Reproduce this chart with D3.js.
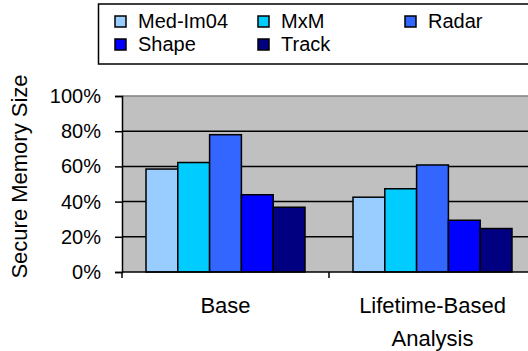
<!DOCTYPE html>
<html>
<head>
<meta charset="utf-8">
<script src="https://cdn.jsdelivr.net/npm/d3@7"></script>
<style>
  html, body { margin: 0; padding: 0; background: #fff; }
  svg { display: block; font-family: "Liberation Sans", Arial, sans-serif; }
</style>
</head>
<body>
<svg id="chart" width="528" height="351"></svg>
<script>
const categories = ["Base", "Lifetime-Based Analysis"];
const categoryLines = [["Base"], ["Lifetime-Based", "Analysis"]];
const seriesNames = ["Med-Im04", "MxM", "Radar", "Shape", "Track"];
const seriesColors = ["#99CCFF", "#00CCFF", "#3366FF", "#0000FF", "#000080"];
const medIm04 = [0.585, 0.425];
const mxm = [0.622, 0.473];
const radar = [0.780, 0.608];
const shape = [0.439, 0.294];
const track = [0.368, 0.247];
const seriesValues = [medIm04, mxm, radar, shape, track];
const yTicks = [0, 0.2, 0.4, 0.6, 0.8, 1.0];

const svg = d3.select("#chart");
const pLeft = 122, pRight = 536, pTop = 96, pBottom = 272;

const x0 = d3.scaleBand().domain(categories).range([pLeft, pRight]).padding(0);
const x1 = d3.scaleBand().domain(seriesNames).range([0, x0.bandwidth()])
  .paddingInner(0).paddingOuter(0.755);
const y = d3.scaleLinear().domain([0, 1]).range([pBottom, pTop]);

// plot background
svg.append("rect").attr("x", pLeft).attr("y", pTop)
  .attr("width", pRight - pLeft).attr("height", pBottom - pTop)
  .attr("fill", "#C0C0C0");

// gridlines
svg.append("g").selectAll("line").data(yTicks.filter(t => t > 0 && t < 1)).join("line")
  .attr("x1", pLeft).attr("x2", pRight)
  .attr("y1", d => y(d)).attr("y2", d => y(d))
  .attr("stroke", "#000").attr("stroke-width", 1.5);
// top border
svg.append("line").attr("x1", pLeft).attr("x2", pRight)
  .attr("y1", y(1)).attr("y2", y(1))
  .attr("stroke", "#808080").attr("stroke-width", 1.5);

// bars
const groups = svg.append("g").selectAll("g").data(categories).join("g")
  .attr("transform", d => `translate(${x0(d)},0)`);
groups.selectAll("rect")
  .data((c, ci) => seriesNames.map((s, si) => ({ s, si, v: seriesValues[si][ci] })))
  .join("rect")
  .attr("x", d => x1(d.s))
  .attr("y", d => y(d.v))
  .attr("width", x1.bandwidth())
  .attr("height", d => y(0) - y(d.v))
  .attr("fill", d => seriesColors[d.si])
  .attr("stroke", "#000").attr("stroke-width", 1.5);

// y axis
const yAxis = d3.axisLeft(y).tickValues(yTicks).tickFormat(d3.format(".0%"))
  .tickSize(7).tickPadding(14);
const ya = svg.append("g").attr("transform", `translate(${pLeft},0)`).call(yAxis);
ya.select(".domain").attr("stroke", "#000").attr("stroke-width", 1.5);
ya.selectAll(".tick line").attr("stroke", "#000").attr("stroke-width", 1.5);
ya.selectAll(".tick text").attr("font-size", 20).attr("fill", "#000")
  .attr("font-family", "Liberation Sans, Arial, sans-serif");

// x axis
const xa = svg.append("g").attr("transform", `translate(0,${pBottom})`);
xa.append("line").attr("x1", pLeft).attr("x2", pRight).attr("y1", 0).attr("y2", 0)
  .attr("stroke", "#000").attr("stroke-width", 1.5);
const boundaries = categories.map(c => x0(c)).concat([x0(categories[categories.length - 1]) + x0.bandwidth()]);
xa.selectAll("line.tk").data(boundaries).join("line").attr("class", "tk")
  .attr("x1", d => d).attr("x2", d => d).attr("y1", 0).attr("y2", 6)
  .attr("stroke", "#000").attr("stroke-width", 1.5);
xa.selectAll("text").data(categories).join("text")
  .attr("x", d => x0(d) + x0.bandwidth() / 2)
  .attr("y", 41)
  .attr("text-anchor", "middle").attr("font-size", 22).attr("fill", "#000")
  .each(function(d, i) {
    const t = d3.select(this);
    categoryLines[i].forEach((ln, k) => {
      t.append("tspan").attr("x", x0(d) + x0.bandwidth() / 2)
        .attr("dy", k === 0 ? 0 : 33).text(ln);
    });
  });

// y title
svg.append("text")
  .attr("transform", `translate(27,${(73 + 280) / 2}) rotate(-90)`)
  .attr("text-anchor", "middle").attr("font-size", 22).attr("fill", "#000")
  .text("Secure Memory Size");

// legend
const lg = svg.append("g");
lg.append("rect").attr("x", 98.5).attr("y", 4).attr("width", 440).attr("height", 60)
  .attr("fill", "#fff").attr("stroke", "#000").attr("stroke-width", 1.5);
const colX = [115, 258, 405];
const rowY = [16, 39];
const items = lg.selectAll("g").data(seriesNames).join("g")
  .attr("transform", (d, i) => `translate(${colX[i % 3]},${rowY[Math.floor(i / 3)]})`);
items.append("rect").attr("width", 11).attr("height", 11)
  .attr("fill", (d, i) => seriesColors[i]).attr("stroke", "#000").attr("stroke-width", 1.5);
items.append("text").attr("x", 23).attr("y", 11.5)
  .attr("font-size", 20).attr("fill", "#000").text(d => d);
</script>
</body>
</html>
